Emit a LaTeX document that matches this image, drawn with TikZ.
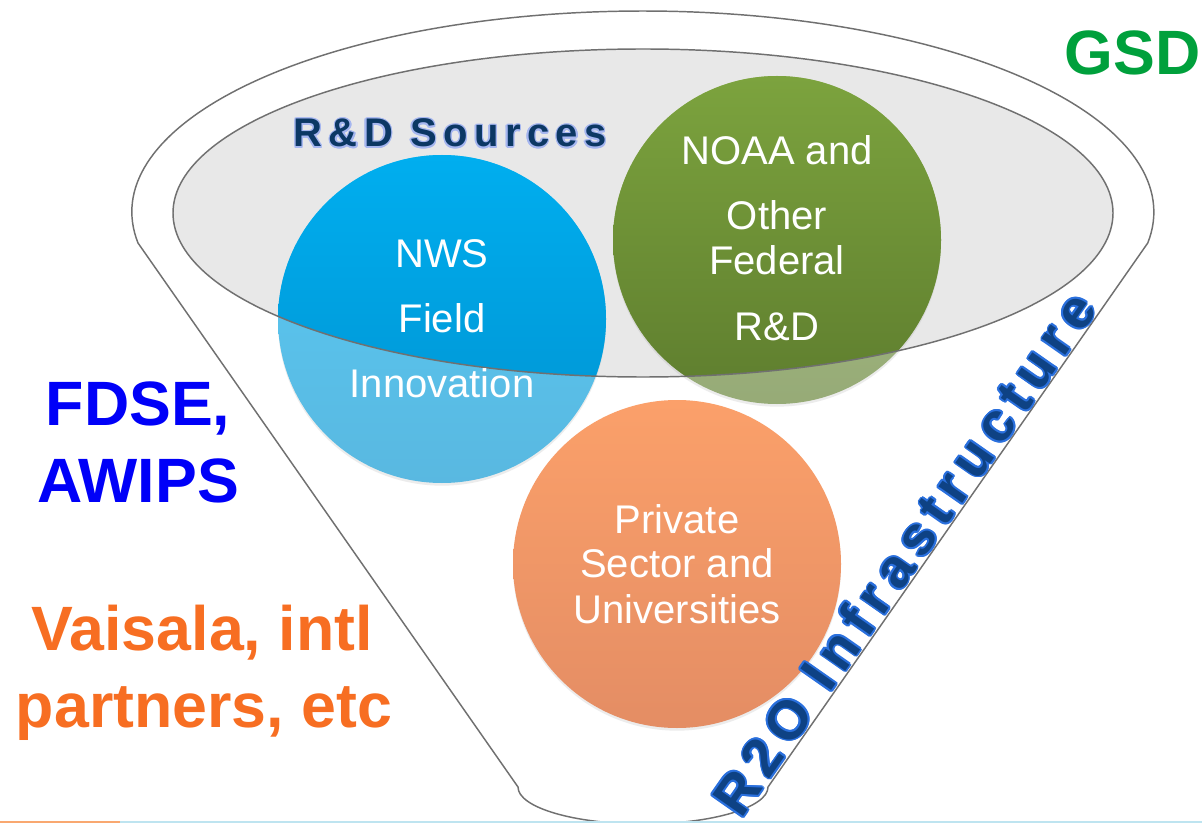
\documentclass[tikz,border=0pt]{standalone}
\usepackage{fontspec}
\setmainfont{Liberation Sans}
\newfontfamily\sourcesfont[LetterSpace=16]{Liberation Sans}
\newfontfamily\infrafont[LetterSpace=16]{Liberation Sans}
\usepackage{contour}
\contournumber{12}
\usetikzlibrary{shadows}

\definecolor{funnelgray}{RGB}{112,112,112}
\definecolor{rdgray}{RGB}{232,232,232}
\definecolor{nwstop}{RGB}{0,174,239}
\definecolor{nwsbottom}{RGB}{0,146,208}
\definecolor{noaatop}{RGB}{124,163,62}
\definecolor{noaabottom}{RGB}{94,125,46}
\definecolor{privtop}{RGB}{251,160,106}
\definecolor{privbottom}{RGB}{228,141,100}
\definecolor{fdseblue}{RGB}{0,0,248}
\definecolor{vaisalaorange}{RGB}{247,110,34}
\definecolor{gsdgreen}{RGB}{0,160,60}
\definecolor{sourcesnavy}{RGB}{12,56,100}
\definecolor{sourcesglow}{RGB}{165,182,240}
\definecolor{infranavy}{RGB}{14,66,132}
\definecolor{infraglow}{RGB}{42,112,222}
\definecolor{stripeorange}{RGB}{249,168,112}
\definecolor{stripeblue}{RGB}{190,228,240}

\tikzset{every picture/.style={line width=0.75pt}}
\tikzset{
  disc/.style={circle, inner sep=0pt, minimum size=246pt},
  disclabel/.style={text=white, anchor=base, inner sep=0.75pt, font=\fontsize{30}{36}\selectfont},
  sidelabel/.style={anchor=base, inner sep=0.75pt, font=\fontsize{47}{56}\selectfont\bfseries},
}

\begin{document}
\begin{tikzpicture}[x=0.75pt,y=0.75pt,yscale=-1,xscale=1]

\useasboundingbox (0,0) rectangle (1202,823);

% funnel body
\draw [draw=funnelgray, line width=1.1pt, fill=white] (138,243) arc [start angle=171.13, end angle=368.87, x radius=511, y radius=201] -- (768,787) arc [start angle=0, end angle=180, x radius=125, y radius=37] -- cycle ;

% R&D sources pool
\fill [rdgray] (643,213) ellipse [x radius=470, y radius=164] ;

% sources, faded below the pool
\node [disc, top color=nwstop!65!white, bottom color=nwsbottom!65!white, drop shadow={shadow xshift=0pt, shadow yshift=-2pt, opacity=0.15}] (nws) at (442,319) {};
\node [disc, top color=noaatop!65!white, bottom color=noaabottom!65!white, drop shadow={shadow xshift=0pt, shadow yshift=-2pt, opacity=0.15}] (noaa) at (777,240) {};

\begin{scope}
\clip (643,213) ellipse [x radius=470, y radius=164] ;
\node [disc, top color=nwstop, bottom color=nwsbottom] (nwsin) at (nws) {};
\node [disc, top color=noaatop, bottom color=noaabottom] (noaain) at (noaa) {};
\end{scope}

\draw [draw=funnelgray, line width=1.1pt] (643,213) ellipse [x radius=470, y radius=164] ;

\node [disc, top color=privtop, bottom color=privbottom, drop shadow={shadow xshift=0pt, shadow yshift=-2pt, opacity=0.15}] (priv) at (677,564) {};

% circle texts
\foreach \txt/\yy [count=\i] in {NWS/268, Field/333, Innovation/397}
  \node [disclabel] (nws-\i) at (442,\yy) {\txt};
\foreach \txt/\yy [count=\i] in {NOAA and/165, Other/230, Federal/275, R\&D/340}
  \node [disclabel] (noaa-\i) at (777,\yy) {\txt};
\foreach \txt/\yy [count=\i] in {Private/533, Sector and/577, Universities/623}
  \node [disclabel] (priv-\i) at (677,\yy) {\txt};

\node [anchor=base west, inner sep=0pt, text=sourcesnavy, font=\fontsize{30}{36}\selectfont\sourcesfont\bfseries] (sources) at (293,147) {\contourlength{1.1pt}\contour{sourcesglow}{R\&D Sources}};

\node [anchor=base west, inner sep=0pt, rotate=55, text=infranavy, font=\fontsize{41}{48}\selectfont\infrafont\bfseries] (infra) at (741,820) {\contourlength{1.4pt}\contour{infraglow}{R2O Infrastructure}};

% partners
\node [sidelabel, text=fdseblue] (fdse) at (138,425) {FDSE,};
\node [sidelabel, text=fdseblue] (awips) at (138,502) {AWIPS};
\node [sidelabel, text=vaisalaorange] (vaisala) at (202,650) {Vaisala, intl};
\node [sidelabel, text=vaisalaorange] (partners) at (204,727) {partners, etc};
\node [sidelabel, anchor=base west, text=gsdgreen] (gsd) at (1063,75) {GSD};

% footer stripe
\fill [stripeorange] (0,820.5) rectangle (120,823) ;
\fill [stripeblue] (120,820.5) rectangle (1202,823) ;

\end{tikzpicture}
\end{document}
